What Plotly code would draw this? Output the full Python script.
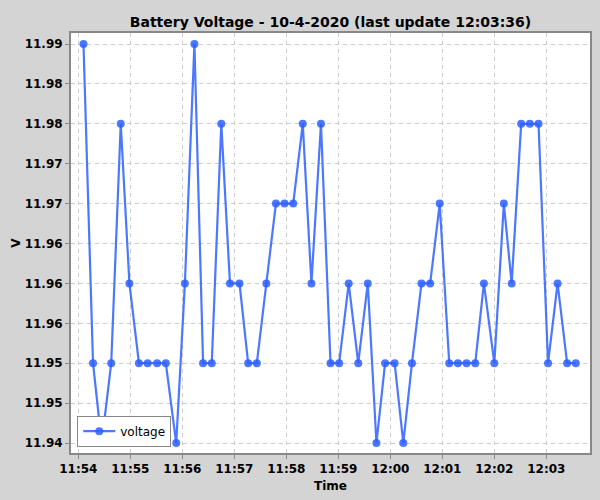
import plotly.graph_objects as go

# ---- data ----
day = "2020-10-04"
times = [
    "11:54:06", "11:54:17", "11:54:27", "11:54:38", "11:54:49", "11:54:59",
    "11:55:10", "11:55:20", "11:55:31", "11:55:41", "11:55:53", "11:56:03",
    "11:56:14", "11:56:24", "11:56:34", "11:56:45", "11:56:55", "11:57:06",
    "11:57:16", "11:57:26", "11:57:37", "11:57:48", "11:57:58", "11:58:08",
    "11:58:19", "11:58:29", "11:58:40", "11:58:51", "11:59:01", "11:59:12",
    "11:59:23", "11:59:34", "11:59:44", "11:59:54", "12:00:05", "12:00:15",
    "12:00:25", "12:00:36", "12:00:46", "12:00:57", "12:01:08", "12:01:18",
    "12:01:28", "12:01:38", "12:01:48", "12:02:00", "12:02:11", "12:02:20",
    "12:02:31", "12:02:41", "12:02:51", "12:03:02", "12:03:13", "12:03:24",
    "12:03:34",
]
voltage = [
    11.99, 11.95, 11.94, 11.95, 11.98, 11.96,
    11.95, 11.95, 11.95, 11.95, 11.94, 11.96,
    11.99, 11.95, 11.95, 11.98, 11.96, 11.96,
    11.95, 11.95, 11.96, 11.97, 11.97, 11.97,
    11.98, 11.96, 11.98, 11.95, 11.95, 11.96,
    11.95, 11.96, 11.94, 11.95, 11.95, 11.94,
    11.95, 11.96, 11.96, 11.97, 11.95, 11.95,
    11.95, 11.95, 11.96, 11.95, 11.97, 11.96,
    11.98, 11.98, 11.98, 11.95, 11.96, 11.95,
    11.95,
]
y_tick_vals = [11.94, 11.945, 11.95, 11.955, 11.96, 11.965, 11.97, 11.975, 11.98, 11.985, 11.99]
y_tick_text = ["11.94", "11.95", "11.95", "11.96", "11.96", "11.96", "11.97", "11.97", "11.98", "11.98", "11.99"]

x = [f"{day} {t}" for t in times]

FONT = "DejaVu Sans"
BLUE = "rgba(45,95,255,0.85)"

fig = go.Figure()
fig.add_trace(go.Scatter(
    x=x, y=voltage, mode="lines+markers", name="voltage",
    line=dict(color=BLUE, width=2.2),
    marker=dict(color=BLUE, size=8),
))

fig.update_layout(
    width=600, height=500,
    paper_bgcolor="#d4d4d4", plot_bgcolor="white",
    margin=dict(l=71, r=10, t=33, b=47, autoexpand=False),
    font=dict(family=FONT, color="black"),
    title=dict(text="Battery Voltage - 10-4-2020 (last update 12:03:36)",
               x=0.5, xref="paper", xanchor="center", y=1 - 22 / 500, yanchor="middle",
               font=dict(size=14, weight="bold", family=FONT)),
    showlegend=True,
    legend=dict(x=0.012, y=0.015, xanchor="left", yanchor="bottom",
                bgcolor="white", bordercolor="#888888", borderwidth=1,
                itemwidth=32,
                font=dict(size=12, family=FONT)),
)

fig.update_xaxes(
    type="date", automargin=False,
    range=[f"{day} 11:53:51.6", f"{day} 12:03:50.4"],
    tick0=f"{day} 11:54:00", dtick=60000, tickformat="%H:%M",
    ticks="outside", ticklen=4, tickcolor="#888888",
    tickfont=dict(size=12, weight="bold", family=FONT),
    showgrid=True, gridcolor="#cccccc", griddash="4px,4px", gridwidth=1,
    showline=True, linecolor="#888888", linewidth=2, mirror=True,
    zeroline=False,
    title=dict(text="Time", font=dict(size=12, weight="bold", family=FONT), standoff=6),
)
fig.update_yaxes(
    automargin=False,
    range=[11.93875, 11.99138],
    tickmode="array", tickvals=y_tick_vals, ticktext=y_tick_text,
    ticks="outside", ticklen=4, tickcolor="#888888",
    tickfont=dict(size=12, weight="bold", family=FONT),
    showgrid=True, gridcolor="#cccccc", griddash="4px,4px", gridwidth=1,
    showline=True, linecolor="#888888", linewidth=2, mirror=True,
    zeroline=False,
    title=dict(text="V", font=dict(size=12, weight="bold", family=FONT), standoff=1),
)

fig.write_html("out.html", config={"displayModeBar": False},
               post_script="document.body.style.margin='0';")
